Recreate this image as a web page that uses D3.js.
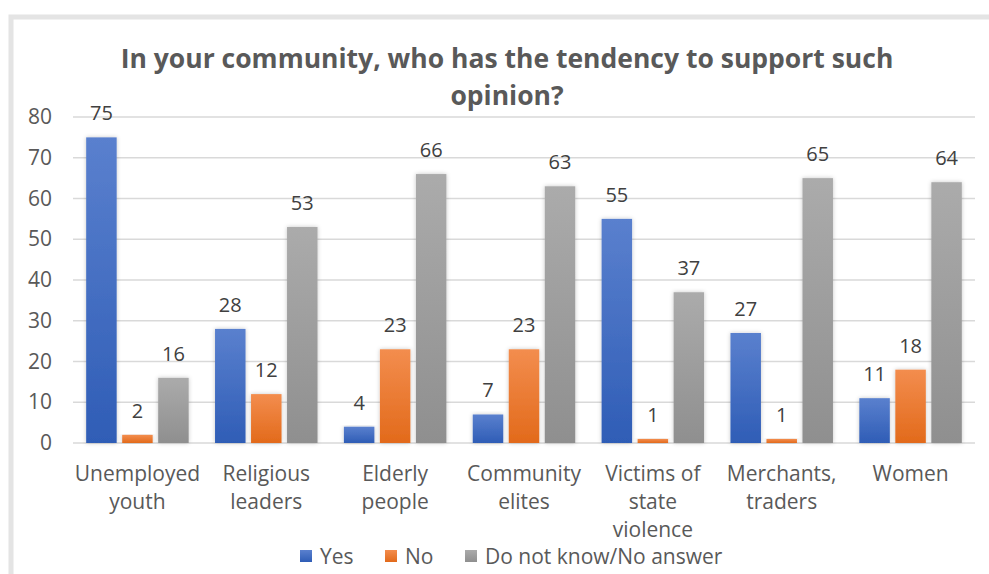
<!DOCTYPE html>
<html>
<head>
<meta charset="utf-8">
<script src="https://cdn.jsdelivr.net/npm/d3@7/dist/d3.min.js"></script>
<style>
  html, body { margin: 0; padding: 0; background: #fff; }
  svg { display: block; font-family: "Open Sans", Lato, sans-serif; }
</style>
</head>
<body>
<svg id="chart" width="989" height="574"></svg>
<script>
// Survey answers per group
const categories = [
  ["Unemployed", "youth"],
  ["Religious", "leaders"],
  ["Elderly", "people"],
  ["Community", "elites"],
  ["Victims of", "state", "violence"],
  ["Merchants,", "traders"],
  ["Women"]
];
const seriesNames = ["Yes", "No", "Do not know/No answer"];
const yesValues   = [75, 28, 4, 7, 55, 27, 11];
const noValues    = [2, 12, 23, 23, 1, 1, 18];
const dkValues    = [16, 53, 66, 63, 37, 65, 64];
const yTicks      = [0, 10, 20, 30, 40, 50, 60, 70, 80];
const titleLines  = ["In your community, who has the tendency to support such", "opinion?"];

const seriesValues = [yesValues, noValues, dkValues];
const colors = [
  { top: "#5a80ce", bottom: "#2f5db6" },
  { top: "#f38d4e", bottom: "#e26a1b" },
  { top: "#ababab", bottom: "#8f8f8f" }
];

const svg = d3.select("#chart");
const plot = { left: 73, right: 975, top: 117, bottom: 443 };

// Chart frame
svg.append("rect")
  .attr("x", 11).attr("y", 17)
  .attr("width", 1000).attr("height", 620)
  .attr("fill", "none")
  .attr("stroke", "#e4e4e4")
  .attr("stroke-width", 5);

const defs = svg.append("defs");
colors.forEach((c, i) => {
  const g = defs.append("linearGradient")
    .attr("id", "grad" + i)
    .attr("x1", 0).attr("y1", 0).attr("x2", 0).attr("y2", 1);
  g.append("stop").attr("offset", "0%").attr("stop-color", c.top);
  g.append("stop").attr("offset", "100%").attr("stop-color", c.bottom);
});
const shadow = defs.append("filter").attr("id", "shadow")
  .attr("x", "-30%").attr("y", "-10%").attr("width", "160%").attr("height", "120%");
shadow.append("feDropShadow")
  .attr("dx", 0).attr("dy", 0).attr("stdDeviation", 2)
  .attr("flood-color", "#000").attr("flood-opacity", 0.22);

// Title
svg.append("text")
  .attr("text-anchor", "middle")
  .attr("fill", "#595959")
  .attr("font-size", 26.5).attr("font-weight", "bold")
  .selectAll("tspan").data(titleLines).join("tspan")
  .attr("x", 507)
  .attr("y", (d, i) => 68 + i * 37)
  .text(d => d);

// Scales
const y = d3.scaleLinear().domain([0, 80]).range([plot.bottom, plot.top]);
const x0 = d3.scaleBand().domain(d3.range(categories.length))
  .range([plot.left, plot.right]).padding(0);
const x1 = d3.scaleBand().domain(d3.range(seriesNames.length))
  .range([0, x0.bandwidth()]).paddingInner(0.153).paddingOuter(0.366);

// Gridlines
svg.append("g").selectAll("line").data(yTicks).join("line")
  .attr("x1", plot.left).attr("x2", plot.right)
  .attr("y1", d => y(d)).attr("y2", d => y(d))
  .attr("stroke", "#d9d9d9").attr("stroke-width", 1.5);

// Y axis labels
const yAxis = svg.append("g")
  .attr("transform", `translate(${plot.left},0)`)
  .call(d3.axisLeft(y).tickValues(yTicks).tickSize(0).tickPadding(21));
yAxis.select(".domain").remove();
yAxis.selectAll("text")
  .attr("font-family", "'Open Sans', Lato, sans-serif")
  .attr("font-size", 21).attr("fill", "#595959");

// Bars
const groups = svg.append("g").selectAll("g").data(categories).join("g")
  .attr("transform", (d, i) => `translate(${x0(i)},0)`);

groups.each(function(cat, ci) {
  const g = d3.select(this);
  const rows = seriesValues.map((vals, si) => ({ si, v: vals[ci] }));
  g.selectAll("rect").data(rows).join("rect")
    .attr("x", d => x1(d.si))
    .attr("width", x1.bandwidth())
    .attr("y", d => y(d.v))
    .attr("height", d => y(0) - y(d.v))
    .attr("fill", d => `url(#grad${d.si})`)
    .attr("filter", "url(#shadow)");
  g.selectAll("text.val").data(rows).join("text")
    .attr("class", "val")
    .attr("x", d => x1(d.si) + x1.bandwidth() / 2)
    .attr("y", d => y(d.v) - 17)
    .attr("text-anchor", "middle")
    .attr("font-size", 20).attr("fill", "#404040")
    .text(d => d.v);
});

// X category labels
const xl = svg.append("g").selectAll("text").data(categories).join("text")
  .attr("text-anchor", "middle")
  .attr("font-size", 21).attr("fill", "#595959");
xl.each(function(lines, i) {
  d3.select(this).selectAll("tspan").data(lines).join("tspan")
    .attr("x", x0(i) + x0.bandwidth() / 2)
    .attr("y", (d, k) => 481 + k * 28)
    .text(d => d);
});

// Legend
const legendX = [300, 385, 465];
const legend = svg.append("g").selectAll("g").data(seriesNames).join("g")
  .attr("transform", (d, i) => `translate(${legendX[i]},550)`);
legend.append("rect")
  .attr("width", 12).attr("height", 12)
  .attr("fill", (d, i) => `url(#grad${i})`);
legend.append("text")
  .attr("x", 20).attr("y", 13.5)
  .attr("font-size", 21).attr("fill", "#595959")
  .text(d => d);
</script>
</body>
</html>
